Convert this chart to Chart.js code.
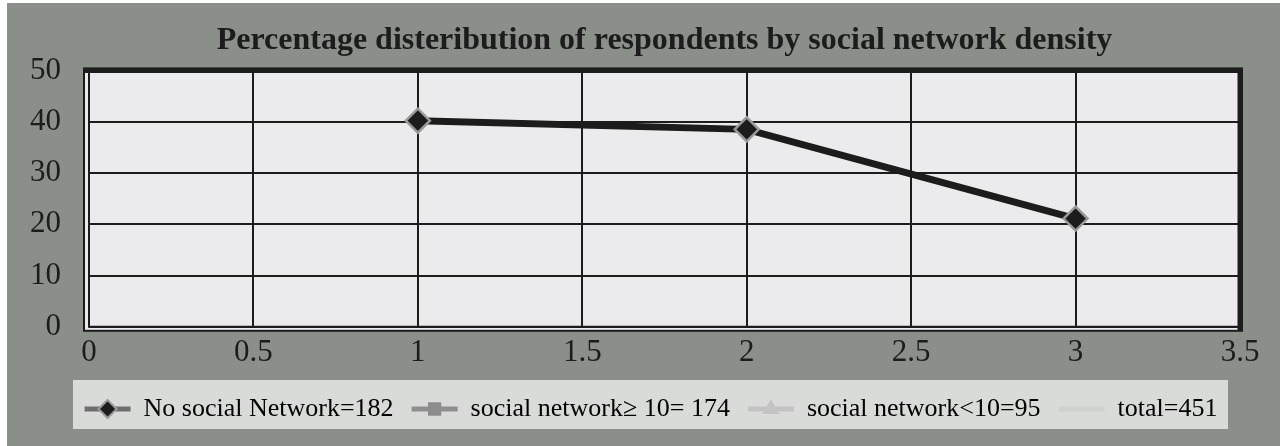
<!DOCTYPE html>
<html>
<head>
  <title>Social network density</title>
  <style>
    body {
      margin: 0;
      background-color: #fff;
    }
    #wrap {
      width: 1280px;
      height: 446px;
    }
  </style>
</head>
<body>
  <div id="wrap"><canvas id="chart" width="1280" height="446"></canvas></div>

  <script src="https://cdn.jsdelivr.net/npm/chart.js"></script>
  <script>
    // values
    var xPoints = [1, 2, 3];
    var noNetwork = [40.2, 38.5, 21.1];
    var networkHigh = [];
    var networkLow = [];
    var totalValues = [];
    var seriesNames = ['No social Network=182', 'social network\u2265 10= 174', 'social network<10=95', 'total=451'];
    var chartTitle = 'Percentage disteribution of respondents by social network density';

    function toPoints(xs, ys) {
      var out = [];
      for (var i = 0; i < ys.length; i++) {
        out.push({ x: xs[i], y: ys[i] });
      }
      return out;
    }

    var markerInfo = [
      { style: 'rectRot', fill: '#1c1c1c', stroke: '#9a9a9a', line: '#6e6e6e' },
      { style: 'rect', fill: '#8d8d8d', stroke: '#8d8d8d', line: '#8f8f8f' },
      { style: 'triangle', fill: '#c4c4c4', stroke: '#c4c4c4', line: '#c2c2c2' },
      { style: false, fill: '#d2d2d2', stroke: '#d2d2d2', line: '#d0d2d0' }
    ];

    // background, plot frame and legend box
    var framePlugin = {
      id: 'frame',
      afterLayout: function(chart) {
        // the legend strip sits a little right of centre
        chart.legend.left += 27;
        chart.legend.right += 27;
      },
      beforeDraw: function(chart) {
        var ctx = chart.ctx;
        var a = chart.chartArea;
        ctx.save();
        ctx.fillStyle = '#ffffff';
        ctx.fillRect(0, 0, chart.width, chart.height);
        ctx.fillStyle = '#8a8f8a';
        ctx.fillRect(7, 3, chart.width - 7, chart.height - 3);

        // plot area with shadowed frame
        ctx.fillStyle = '#ebebed';
        ctx.fillRect(a.left - 5, a.top - 2, a.right - a.left + 7, a.bottom - a.top + 6);
        ctx.strokeStyle = '#1c1c1c';
        ctx.lineWidth = 2;
        ctx.strokeRect(a.left - 5, a.top - 2, a.right - a.left + 7, a.bottom - a.top + 6);
        ctx.beginPath();
        ctx.moveTo(a.left, a.top);
        ctx.lineTo(a.left, a.bottom);
        ctx.lineTo(a.right, a.bottom);
        ctx.stroke();
        ctx.lineWidth = 5;
        ctx.beginPath();
        ctx.moveTo(a.left - 5, a.top);
        ctx.lineTo(a.right, a.top);
        ctx.lineTo(a.right, a.bottom + 4);
        ctx.stroke();

        // legend box
        var lg = chart.legend;
        ctx.fillStyle = '#d9dbd9';
        ctx.fillRect(73, lg.top + 2, 1155, lg.height - 5);
        ctx.restore();
      },
      afterDraw: function(chart) {
        // markers on top of legend line samples
        var ctx = chart.ctx;
        var boxes = chart.legend.legendHitBoxes;
        ctx.save();
        for (var i = 0; i < boxes.length; i++) {
          var m = markerInfo[i];
          if (!m.style) continue;
          var b = boxes[i];
          ctx.fillStyle = m.fill;
          ctx.strokeStyle = m.stroke;
          ctx.lineWidth = 2;
          Chart.helpers.drawPoint(ctx, {
            pointStyle: m.style,
            radius: i === 0 ? 9 : 8,
            borderWidth: 2,
            rotation: 0
          }, b.left + 23, b.top + b.height / 2);
        }
        ctx.restore();
      }
    };

    var datasets = [];
    var allSeries = [noNetwork, networkHigh, networkLow, totalValues];
    for (var s = 0; s < allSeries.length; s++) {
      datasets.push({
        label: seriesNames[s],
        data: toPoints(xPoints, allSeries[s]),
        borderColor: s === 0 ? '#1c1c1c' : markerInfo[s].line,
        backgroundColor: markerInfo[s].line,
        borderWidth: 7,
        pointStyle: markerInfo[s].style || 'circle',
        pointRadius: markerInfo[s].style ? 12 : 0,
        pointBackgroundColor: markerInfo[s].fill,
        pointBorderColor: markerInfo[s].stroke,
        pointBorderWidth: 2.5,
        tension: 0
      });
    }

    function plainNumber(value) {
      return String(value);
    }

    new Chart(document.getElementById('chart'), {
      type: 'scatter',
      data: { datasets: datasets },
      plugins: [framePlugin],
      options: {
        responsive: false,
        animation: false,
        showLine: true,
        layout: { padding: { left: 8, right: 40, top: 2, bottom: 14 } },
        plugins: {
          title: {
            display: true,
            fullSize: false,
            text: chartTitle,
            color: '#1c1c1c',
            font: { family: 'Liberation Serif', size: 32, weight: 'bold' },
            padding: { top: 20, bottom: 10 }
          },
          legend: {
            position: 'bottom',
            labels: {
              color: '#1c1c1c',
              font: { family: 'Liberation Serif', size: 26 },
              boxWidth: 46,
              boxHeight: 5,
              padding: 18,
              generateLabels: function(chart) {
                return chart.data.datasets.map(function(ds, i) {
                  return {
                    text: ds.label,
                    fillStyle: markerInfo[i].line,
                    strokeStyle: markerInfo[i].line,
                    lineWidth: 0,
                    datasetIndex: i
                  };
                });
              }
            }
          },
          tooltip: { enabled: false }
        },
        scales: {
          x: {
            type: 'linear',
            min: 0,
            max: 3.5,
            ticks: {
              stepSize: 0.5,
              color: '#1c1c1c',
              font: { family: 'Liberation Serif', size: 31 },
              padding: 7,
              callback: plainNumber
            },
            grid: { color: '#1c1c1c', lineWidth: 2, drawTicks: false },
            border: { display: false }
          },
          y: {
            min: 0,
            max: 50,
            ticks: {
              stepSize: 10,
              color: '#1c1c1c',
              font: { family: 'Liberation Serif', size: 31 },
              padding: 28,
              callback: plainNumber
            },
            grid: { color: '#1c1c1c', lineWidth: 2, drawTicks: false },
            border: { display: false },
            afterFit: function(scale) { scale.width = 81; }
          }
        }
      }
    });
  </script>
</body>
</html>
